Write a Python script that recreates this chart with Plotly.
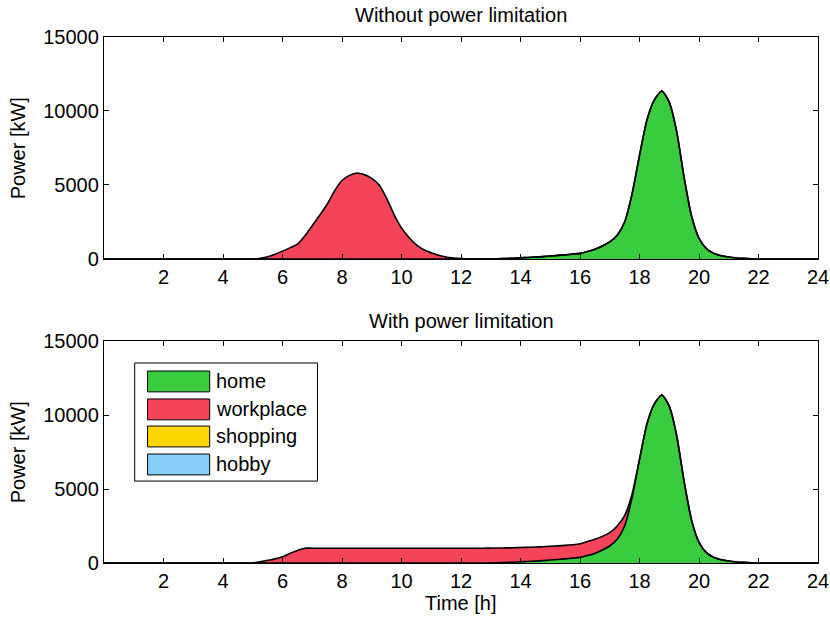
import plotly.graph_objects as go
from plotly.subplots import make_subplots

# ---------------- data ----------------
time_h = [i * 0.25 for i in range(97)]  # 0 .. 24 h, 15-min grid

workplace_nolimit = [
    0, 0, 0, 0, 0, 0, 0, 0,
    0, 0, 0, 0, 0, 0, 0, 0,
    0, 0, 0, 0, 0, 50, 150, 320,
    530, 750, 1000, 1550, 2250, 2950, 3700, 4600,
    5300, 5650, 5800, 5700, 5450, 5000, 4100, 3000,
    2100, 1450, 950, 620, 420, 250, 130, 70,
    30, 10, 0, 0, 0, 0, 0, 0,
    0, 0, 0, 0, 0, 0, 0, 0,
    0, 0, 0, 0, 0, 0, 0, 0,
    0, 0, 0, 0, 0, 0, 0, 0,
    0, 0, 0, 0, 0, 0, 0, 0,
    0, 0, 0, 0, 0, 0, 0, 0,
    0,
]

home = [
    0, 0, 0, 0, 0, 0, 0, 0,
    0, 0, 0, 0, 0, 0, 0, 0,
    0, 0, 0, 0, 0, 0, 0, 0,
    0, 0, 0, 0, 0, 0, 0, 0,
    0, 0, 0, 0, 0, 0, 0, 0,
    0, 0, 0, 0, 0, 0, 0, 0,
    0, 0, 0, 0, 10, 20, 30, 50,
    80, 100, 130, 160, 200, 240, 280, 330,
    380, 500, 650, 880, 1150, 1600, 2500, 4400,
    7000, 9400, 10750, 11350, 10600, 8600, 5500, 2900,
    1400, 700, 380, 220, 130, 70, 40, 20,
    0, 0, 0, 0, 0, 0, 0, 0,
    0,
]

workplace_limit = [
    0, 0, 0, 0, 0, 0, 0, 0,
    0, 0, 0, 0, 0, 0, 0, 0,
    0, 0, 0, 0, 0, 80, 180, 280,
    420, 650, 850, 1000, 1000, 1000, 1000, 1000,
    1000, 1000, 1000, 1000, 1000, 1000, 1000, 1000,
    1000, 1000, 1000, 1000, 1000, 1000, 1000, 1000,
    1000, 1000, 1000, 1000, 1000, 995, 990, 980,
    970, 960, 950, 940, 930, 920, 910, 905,
    920, 950, 950, 920, 900, 900, 700, 250,
    0, 0, 0, 0, 0, 0, 0, 0,
    0, 0, 0, 0, 0, 0, 0, 0,
    0, 0, 0, 0, 0, 0, 0, 0,
    0,
]

x_tick_vals = [2, 4, 6, 8, 10, 12, 14, 16, 18, 20, 22, 24]
x_tick_text = ["2", "4", "6", "8", "10", "12", "14", "16", "18", "20", "22", "24"]
y_tick_vals = [0, 5000, 10000, 15000]
y_tick_text = ["0", "5000", "10000", "15000"]

legend_labels = ["home", "workplace", "shopping", "hobby"]
legend_colors = ["#38CC3E", "#F5435A", "#FFD700", "#87CEFA"]

titles = ["Without power limitation", "With power limitation"]

FONT = "Liberation Sans, Arial, Helvetica, sans-serif"
FS = 20

# ---------------- figure ----------------
fig = make_subplots(rows=2, cols=1, vertical_spacing=0.156)

line_style = dict(color="black", width=1.6, shape="spline", smoothing=0.6)

fig.add_trace(go.Scatter(x=time_h, y=home, stackgroup="a", fillcolor=legend_colors[0],
                         line=line_style, mode="lines", name="home", showlegend=False), row=1, col=1)
fig.add_trace(go.Scatter(x=time_h, y=workplace_nolimit, stackgroup="a", fillcolor=legend_colors[1],
                         line=line_style, mode="lines", name="workplace", showlegend=False), row=1, col=1)

fig.add_trace(go.Scatter(x=time_h, y=home, stackgroup="b", fillcolor=legend_colors[0],
                         line=line_style, mode="lines", name="home", showlegend=False), row=2, col=1)
fig.add_trace(go.Scatter(x=time_h, y=workplace_limit, stackgroup="b", fillcolor=legend_colors[1],
                         line=line_style, mode="lines", name="workplace", showlegend=False), row=2, col=1)

axis_common = dict(showline=True, linecolor="black", linewidth=1.3, mirror="ticks",
                   ticks="inside", ticklen=5, tickcolor="black", tickwidth=1,
                   showgrid=False, zeroline=False, automargin=False,
                   tickfont=dict(family=FONT, size=FS, color="black"))

for r in (1, 2):
    fig.update_xaxes(range=[0, 24], tickvals=x_tick_vals, ticktext=x_tick_text,
                     domain=[0, 1], **axis_common, row=r, col=1)
    fig.update_yaxes(range=[0, 15000], tickvals=y_tick_vals, ticktext=y_tick_text,
                     **axis_common, row=r, col=1)

fig.update_layout(
    width=830, height=619, autosize=False,
    margin=dict(l=104, r=12, t=37, b=56, autoexpand=False),
    paper_bgcolor="white", plot_bgcolor="white",
    font=dict(family=FONT, size=FS, color="black"),
    showlegend=False,
)
fig.update_layout(yaxis_domain=[0.578, 1.0], yaxis2_domain=[0.0, 0.422])

fig.add_annotation(text=titles[0], x=0.5, y=1.042, xref="paper", yref="paper",
                   showarrow=False, xanchor="center", yanchor="middle",
                   font=dict(family=FONT, size=FS, color="black"))
fig.add_annotation(text=titles[1], x=0.5, y=0.46, xref="paper", yref="paper",
                   showarrow=False, xanchor="center", yanchor="middle",
                   font=dict(family=FONT, size=FS, color="black"))

for yc in (0.789, 0.211):
    fig.add_annotation(text="Power [kW]", x=-0.12, y=yc, xref="paper", yref="paper",
                       showarrow=False, textangle=-90, xanchor="center", yanchor="middle",
                       font=dict(family=FONT, size=FS, color="black"))
fig.add_annotation(text="Time [h]", x=0.5, y=-0.076, xref="paper", yref="paper",
                   showarrow=False, xanchor="center", yanchor="middle",
                   font=dict(family=FONT, size=FS, color="black"))

fig.add_shape(type="rect", xref="x2 domain", yref="y2 domain",
              x0=0.043, x1=0.299, y0=0.369, y1=0.901,
              line=dict(color="black", width=1), fillcolor="white", layer="above")
sw_top = [0.865, 0.739, 0.617, 0.491]
sw_h = 0.094
for lab, col, yt in zip(legend_labels, legend_colors, sw_top):
    fig.add_shape(type="rect", xref="x2 domain", yref="y2 domain",
                  x0=0.061, x1=0.148, y0=yt - sw_h, y1=yt,
                  line=dict(color="black", width=1), fillcolor=col, layer="above")
    fig.add_annotation(text=lab, x=0.154, y=yt - sw_h / 2, xref="x2 domain", yref="y2 domain",
                       showarrow=False, xanchor="left", yanchor="middle",
                       font=dict(family=FONT, size=FS, color="black"))

fig.write_html("out.html")
